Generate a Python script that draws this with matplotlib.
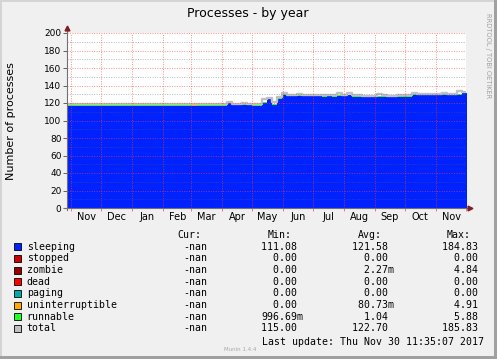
"""Munin 'Processes - by year' graph, redrawn with matplotlib."""
import numpy as np
import matplotlib
matplotlib.use("Agg")
import matplotlib.pyplot as plt
import matplotlib.dates as mdates
from matplotlib.patches import Rectangle

W, H = 497, 359
START = np.datetime64("2016-10-28")
END = np.datetime64("2017-12-01")
STEP_DAYS = 5  # one sample every 5 days

sleeping = [
    116.9, 117.0, 116.8, 117.0, 117.1, 116.9, 117.0, 116.8, 116.9, 117.0,
    117.1, 116.9, 116.8, 117.0, 116.9, 117.0, 117.1, 116.9, 117.0, 116.8,
    117.0, 116.9, 117.0, 117.1, 116.9, 116.8, 117.0, 116.9, 117.0, 116.8,
    117.0, 116.9, 119.8, 117.6, 117.4,
    117.6, 117.2, 116.8, 116.7, 119.5, 124.3, 118.2, 124.8, 129.5, 127.6,
    127.8, 128.2, 127.9, 127.5, 127.8, 127.6, 127.4, 127.5, 127.3, 127.6,
    127.5, 128.8, 127.4, 127.0, 126.7, 126.8, 126.6, 126.9, 127.2, 126.8,
    126.6, 127.0, 126.9, 127.2,
    129.2, 128.8, 129.0, 128.6, 129.1, 128.9, 129.3, 128.8, 129.0, 129.6,
    131.0, 131.2,
]
uninterruptible = [
    0.0, 0.0, 0.0, 0.0, 0.0, 0.0, 0.0, 0.0, 0.0, 0.0,
    0.0, 0.0, 0.0, 0.0, 0.0, 0.0, 0.0, 0.0, 0.0, 0.0,
    0.0, 0.0, 0.0, 0.0, 0.0, 0.8, 0.0, 0.0, 0.0, 0.0,
    0.0, 0.0, 0.0, 0.0, 0.0,
    0.0, 0.9, 0.0, 0.0, 0.0, 0.0, 0.0, 0.0, 0.0, 0.0,
    0.0, 0.0, 0.0, 0.0, 0.0, 0.0, 0.0, 0.0, 0.0, 0.0,
    0.0, 0.0, 0.0, 0.0, 0.0, 0.0, 0.0, 0.0, 0.0, 0.0,
    0.0, 0.0, 0.0, 0.0,
    0.0, 0.0, 0.0, 0.0, 0.0, 0.0, 0.0, 0.0, 0.0, 0.0,
    0.0, 0.0,
]
runnable = [
    1.0, 1.1, 1.0, 0.9, 1.0, 1.2, 1.0, 1.0, 1.1, 1.0,
    0.9, 1.0, 1.1, 1.0, 1.0, 1.2, 1.0, 0.9, 1.0, 1.1,
    1.0, 1.0, 1.1, 1.0, 0.9, 1.0, 1.0, 1.2, 1.0, 1.0,
    1.1, 1.0, 1.0, 0.9, 1.0,
    1.0, 1.1, 1.0, 1.0, 1.2, 1.0, 1.1, 1.0, 1.0, 1.1,
    1.0, 0.9, 1.0, 1.1, 1.0, 1.0, 1.2, 1.0, 1.0, 1.1,
    1.0, 0.9, 1.0, 1.1, 1.0, 1.0, 1.0, 1.1, 1.0, 1.0,
    1.2, 1.0, 1.0, 1.1,
    1.0, 1.0, 0.9, 1.1, 1.0, 1.0, 1.2, 1.0, 1.0, 1.1,
    1.0, 1.0,
]
total = [
    118.6, 118.7, 118.5, 118.8, 118.7, 118.6, 118.8, 118.5, 118.6, 118.7,
    118.9, 118.6, 118.5, 118.7, 118.6, 118.8, 118.8, 118.6, 118.7, 118.5,
    118.7, 118.6, 118.8, 118.8, 118.6, 119.3, 118.7, 118.6, 118.7, 118.5,
    118.8, 118.6, 121.6, 119.3, 119.1,
    119.9, 119.1, 118.5, 118.4, 125.0, 126.1, 121.5, 126.4, 131.5, 129.3,
    129.5, 129.9, 129.6, 129.2, 129.5, 129.3, 129.1, 129.2, 129.0, 131.0,
    129.2, 131.6, 129.1, 128.7, 128.4, 128.5, 128.3, 129.8, 128.9, 128.5,
    128.3, 128.7, 128.6, 128.9,
    130.9, 130.5, 130.7, 130.3, 130.8, 130.6, 131.0, 130.5, 130.7, 133.8,
    132.8, 133.0,
]

# legend table
names = ["sleeping", "stopped", "zombie", "dead", "paging",
         "uninterruptible", "runnable", "total"]
colors = ["#0022ff", "#cc0000", "#990000", "#ff0000", "#00aaaa",
          "#ffaa00", "#22ff22", "#c0c0c0"]
cur_vals = ["-nan"] * 8
min_vals = ["111.08 ", "  0.00 ", "  0.00 ", "  0.00 ", "  0.00 ",
            "  0.00 ", "996.69m", "115.00 "]
avg_vals = ["121.58 ", "  0.00 ", "  2.27m", "  0.00 ", "  0.00 ",
            " 80.73m", "  1.04 ", "122.70 "]
max_vals = ["184.83 ", "  0.00 ", "  4.84 ", "  0.00 ", "  0.00 ",
            "  4.91 ", "  5.88 ", "185.83 "]


def fx(px):
    return px / W


def fy(py):
    return 1 - py / H


fig = plt.figure(figsize=(W / 100, H / 100), dpi=100, facecolor="#f0f0f0")
ax = fig.add_axes([fx(67), fy(208), 399 / W, 175 / H])
ax.set_facecolor("white")

dates = START + np.arange(len(sleeping)) * np.timedelta64(STEP_DAYS, "D")
sl = np.array(sleeping)
un = sl + np.array(uninterruptible)
rn = un + np.array(runnable)

ax.fill_between(dates, 0, sl, step="post", color="#0022ff", lw=0, zorder=1)
ax.fill_between(dates, sl, un, step="post", color="#ffaa00", lw=0, zorder=1)
ax.fill_between(dates, un, rn, step="post", color="#22ff22", lw=0, zorder=1)
ax.step(dates, total, where="post", color="#c0c0c0", lw=1.7, zorder=2)

ax.set_xlim(START, END)
ax.set_ylim(0, 200)

# grid on top of the data, like rrdtool
ax.set_axisbelow(False)
ax.set_yticks(range(0, 201, 20))
ax.set_yticks(range(0, 201, 10), minor=True)
ax.xaxis.set_major_locator(mdates.MonthLocator())
ax.xaxis.set_major_formatter(plt.NullFormatter())
ax.xaxis.set_minor_locator(mdates.MonthLocator(bymonthday=16))
ax.xaxis.set_minor_formatter(mdates.DateFormatter("%b"))

dots = (0, (1, 1.5))
ax.grid(which="major", color="#ff4040", ls=dots, lw=0.7, alpha=0.6, zorder=3)
ax.yaxis.grid(which="minor", color="#606060", ls=dots, lw=0.7, alpha=0.45)
ax.xaxis.grid(which="minor", visible=False)

ax.tick_params(axis="x", which="major", length=2, color="#e08080", width=0.7)
ax.tick_params(axis="x", which="minor", length=0, labelsize=7, pad=3)
ax.tick_params(axis="y", which="major", length=3, color="#606060",
               width=0.7, labelsize=6.5, pad=1)
ax.tick_params(axis="y", which="minor", length=0)

for s in ax.spines.values():
    s.set_visible(False)

# axes with arrow heads
ax.plot([0, 0], [-0.01, 1.03], transform=ax.transAxes, color="#707070",
        lw=0.8, clip_on=False, zorder=4)
ax.plot([-0.008, 1.01], [0, 0], transform=ax.transAxes, color="#707070",
        lw=0.8, clip_on=False, zorder=4)
ax.plot([0], [1.03], transform=ax.transAxes, marker="^", ms=3.5,
        color="#7f1f1f", clip_on=False, zorder=5)
ax.plot([1.01], [0], transform=ax.transAxes, marker=">", ms=3.5,
        color="#7f1f1f", clip_on=False, zorder=5)

fig.text(fx(248), fy(14), "Processes - by year", ha="center", va="center",
         fontsize=9)
fig.text(fx(11), fy(121), "Number of processes", rotation=90,
         ha="center", va="center", fontsize=8)
fig.text(fx(488), fy(56), "RRDTOOL / TOBI OETIKER", rotation=270,
         ha="center", va="center", fontsize=4.8, color="#a0a0a0")

# legend block
mono = dict(family="DejaVu Sans Mono", fontsize=7.1, va="center")
fig.text(fx(177), fy(234.5), "Cur:", **mono)
fig.text(fx(268), fy(234.5), "Min:", **mono)
fig.text(fx(358), fy(234.5), "Avg:", **mono)
fig.text(fx(447), fy(234.5), "Max:", **mono)
for i, name in enumerate(names):
    yc = 246.8 + i * 11.67
    fig.patches.append(Rectangle((fx(13.5), fy(yc + 3.5)), 7 / W, 7 / H,
                                 facecolor=colors[i], edgecolor="black",
                                 lw=0.6, transform=fig.transFigure))
    fig.text(fx(26.7), fy(yc), name, **mono)
    fig.text(fx(183.3), fy(yc), cur_vals[i], **mono)
    fig.text(fx(261), fy(yc), min_vals[i], **mono)
    fig.text(fx(351.7), fy(yc), avg_vals[i], **mono)
    fig.text(fx(441.7), fy(yc), max_vals[i], **mono)

fig.text(fx(261.7), fy(341.7), "Last update: Thu Nov 30 11:35:07 2017", **mono)
fig.text(fx(224), fy(349.5), "Munin 1.4.4", fontsize=4, color="#a8a8a8",
         va="center")

# bevelled frame
for (xy, w, h, col) in [((0, 0), 2 / W, 1, "#d4d4d4"),
                        ((0, 1 - 2 / H), 1, 2 / H, "#d4d4d4"),
                        ((1 - 3 / W, 0), 3 / W, 1, "#a0a0a0"),
                        ((0, 0), 1, 3 / H, "#a0a0a0")]:
    fig.patches.append(Rectangle(xy, w, h, facecolor=col, lw=0,
                                 transform=fig.transFigure))

fig.savefig("out.png", dpi=100, facecolor=fig.get_facecolor())
